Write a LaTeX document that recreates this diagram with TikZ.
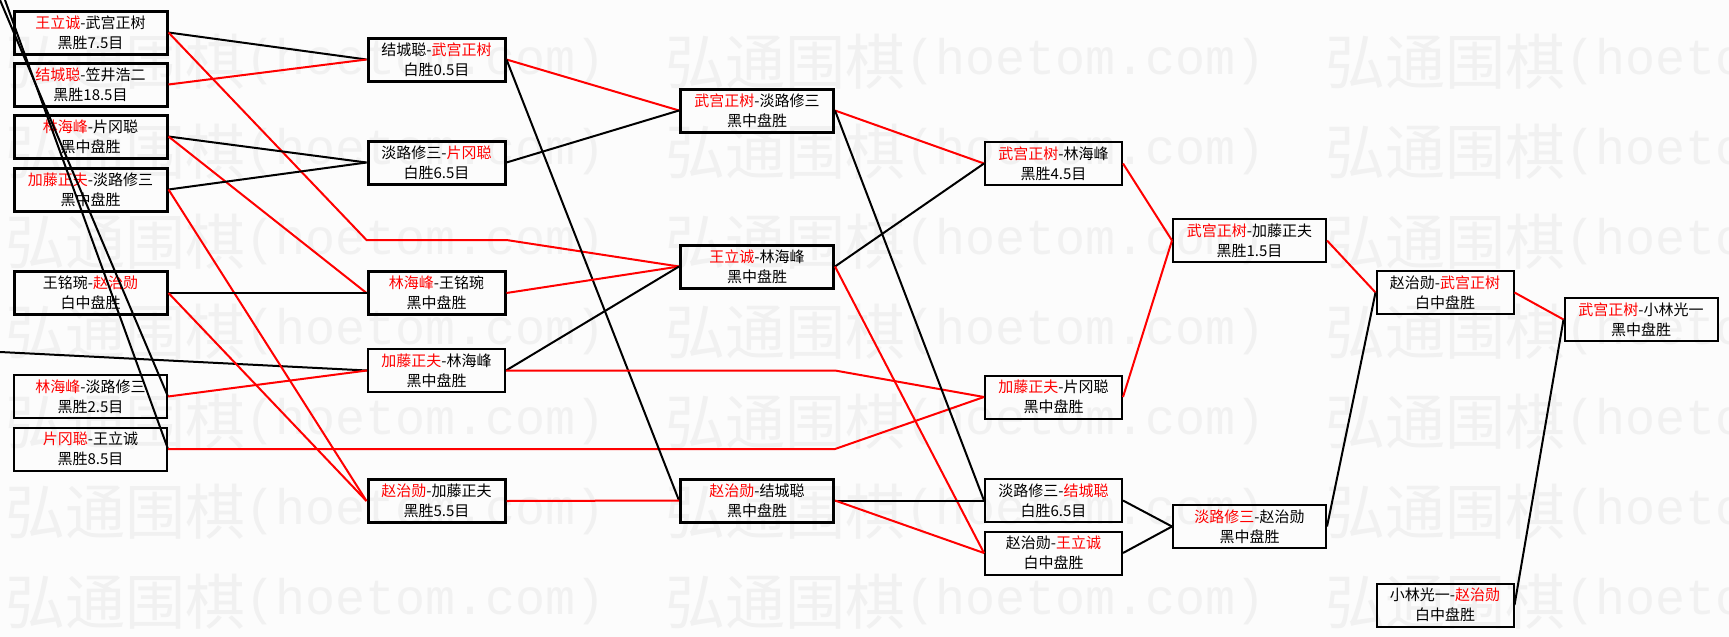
\documentclass[tikz,border=0pt]{standalone}
\usepackage{fontspec}
\usepackage{xcolor}
\usepackage{tikz}
\setmainfont{Noto Sans CJK SC}
\newfontfamily\wmlatin{Liberation Mono}
\definecolor{wmgray}{RGB}{241,241,241}
\definecolor{bggray}{RGB}{252,252,252}
\newcommand{\redname}[1]{\textcolor{red}{#1}}

\begin{document}
\begin{tikzpicture}[x=1pt, y=-1pt,
  match/.style={draw, rectangle, line width=2pt, inner sep=0pt, minimum height=43pt, align=center, font=\fontsize{15}{20}\selectfont},
  boldmatch/.style={match, line width=3pt},
  wide/.style={minimum width=153pt},
  narrow/.style={minimum width=137pt},
  winline/.style={red, line width=2pt},
  loseline/.style={black, line width=2pt},
  wmark/.style={text=wmgray, inner sep=0pt, anchor=west}]
  \useasboundingbox (0,0) rectangle (1729,637);
  \clip (0,0) rectangle (1729,637);
  \fill[bggray] (0,0) rectangle (1729,637);

  \foreach \r in {0,...,6} {
    \foreach \c in {0,1,2} {
      \node[wmark, font=\fontsize{60}{60}\selectfont] (wm-\r-\c) at (5+660*\c, 62+90*\r) {弘通围棋};
      \node[wmark, font=\wmlatin\fontsize{50}{50}\selectfont] (wt-\r-\c) at (245+660*\c, 62+90*\r) {(hoetom.com)};
    }
  }

  \node[boldmatch, wide] (a1) at (90.5, 32.5) {\redname{王立诚}-武宫正树\\黑胜7.5目};
  \node[boldmatch, wide] (a2) at (90.5, 84.5) {\redname{结城聪}-笠井浩二\\黑胜18.5目};
  \node[boldmatch, wide] (a3) at (90.5, 136.5) {\redname{林海峰}-片冈聪\\黑中盘胜};
  \node[boldmatch, wide] (a4) at (90.5, 189.5) {\redname{加藤正夫}-淡路修三\\黑中盘胜};
  \node[boldmatch, wide] (a5) at (90.5, 293) {王铭琬-\redname{赵治勋}\\白中盘胜};
  \node[match, wide] (a6) at (90.5, 396.5) {\redname{林海峰}-淡路修三\\黑胜2.5目};
  \node[match, wide] (a7) at (90.5, 449) {\redname{片冈聪}-王立诚\\黑胜8.5目};

  \node[boldmatch, narrow] (b1) at (436.5, 59.5) {结城聪-\redname{武宫正树}\\白胜0.5目};
  \node[boldmatch, narrow] (b2) at (436.5, 162.5) {淡路修三-\redname{片冈聪}\\白胜6.5目};
  \node[boldmatch, narrow] (b3) at (436.5, 293) {\redname{林海峰}-王铭琬\\黑中盘胜};
  \node[match, narrow] (b4) at (436.5, 370.5) {\redname{加藤正夫}-林海峰\\黑中盘胜};
  \node[boldmatch, narrow] (b5) at (436.5, 501) {\redname{赵治勋}-加藤正夫\\黑胜5.5目};

  \node[boldmatch, wide] (c1) at (757, 110.5) {\redname{武宫正树}-淡路修三\\黑中盘胜};
  \node[boldmatch, wide] (c2) at (757, 266.5) {\redname{王立诚}-林海峰\\黑中盘胜};
  \node[boldmatch, wide] (c3) at (757, 500.5) {\redname{赵治勋}-结城聪\\黑中盘胜};

  \node[match, narrow] (d1) at (1053.5, 163.5) {\redname{武宫正树}-林海峰\\黑胜4.5目};
  \node[match, narrow] (d2) at (1053.5, 397) {\redname{加藤正夫}-片冈聪\\黑中盘胜};
  \node[match, narrow] (d3) at (1053.5, 500.5) {淡路修三-\redname{结城聪}\\白胜6.5目};
  \node[match, narrow] (d4) at (1053.5, 553) {赵治勋-\redname{王立诚}\\白中盘胜};

  \node[match, wide] (e1) at (1249.5, 240.5) {\redname{武宫正树}-加藤正夫\\黑胜1.5目};
  \node[match, wide] (e2) at (1249.5, 526.5) {\redname{淡路修三}-赵治勋\\黑中盘胜};

  \node[match, narrow] (f1) at (1445, 292.5) {赵治勋-\redname{武宫正树}\\白中盘胜};
  \node[match, narrow] (f2) at (1445, 605) {小林光一-\redname{赵治勋}\\白中盘胜};

  \node[match, wide] (g1) at (1641, 319.5) {\redname{武宫正树}-小林光一\\黑中盘胜};

  \coordinate (in1) at (0, 0);
  \coordinate (in2) at (5, 0);
  \coordinate (in3) at (0, 352);

  \draw[loseline] (in1) -- (a6.east);
  \draw[loseline] (in2) -- (a7.east);
  \draw[loseline] (in3) -- (b4.west);

  \draw[loseline] (a1.east) -- (b1.west);
  \draw[winline] (a1.east) -- (b1.west |- 0,240) -- (b1.east |- 0,240) -- (c2.west);
  \draw[winline] (a2.east) -- (b1.west);
  \draw[loseline] (a3.east) -- (b2.west);
  \draw[winline] (a3.east) -- (b3.west);
  \draw[loseline] (a4.east) -- (b2.west);
  \draw[winline] (a4.east) -- (b5.west);
  \draw[loseline] (a5.east) -- (b3.west);
  \draw[winline] (a5.east) -- (b5.west);
  \draw[winline] (a6.east) -- (b4.west);
  \draw[winline] (a7.east) -- (c3.east |- a7.east) -- (d2.west);

  \draw[winline] (b1.east) -- (c1.west);
  \draw[loseline] (b1.east) -- (c3.west);
  \draw[loseline] (b2.east) -- (c1.west);
  \draw[winline] (b3.east) -- (c2.west);
  \draw[loseline] (b4.east) -- (c2.west);
  \draw[winline] (b4.east) -- (c3.east |- b4.east) -- (d2.west);
  \draw[winline] (b5.east) -- (c3.west);

  \draw[winline] (c1.east) -- (d1.west);
  \draw[loseline] (c1.east) -- (d3.west);
  \draw[loseline] (c2.east) -- (d1.west);
  \draw[winline] (c2.east) -- (d4.west);
  \draw[loseline] (c3.east) -- (d3.west);
  \draw[winline] (c3.east) -- (d4.west);

  \draw[winline] (d1.east) -- (e1.west);
  \draw[winline] (d2.east) -- (e1.west);
  \draw[loseline] (d3.east) -- (e2.west);
  \draw[loseline] (d4.east) -- (e2.west);

  \draw[winline] (e1.east) -- (f1.west);
  \draw[loseline] (e2.east) -- (f1.west);
  \draw[winline] (f1.east) -- (g1.west);
  \draw[loseline] (f2.east) -- (g1.west);
\end{tikzpicture}
\end{document}
